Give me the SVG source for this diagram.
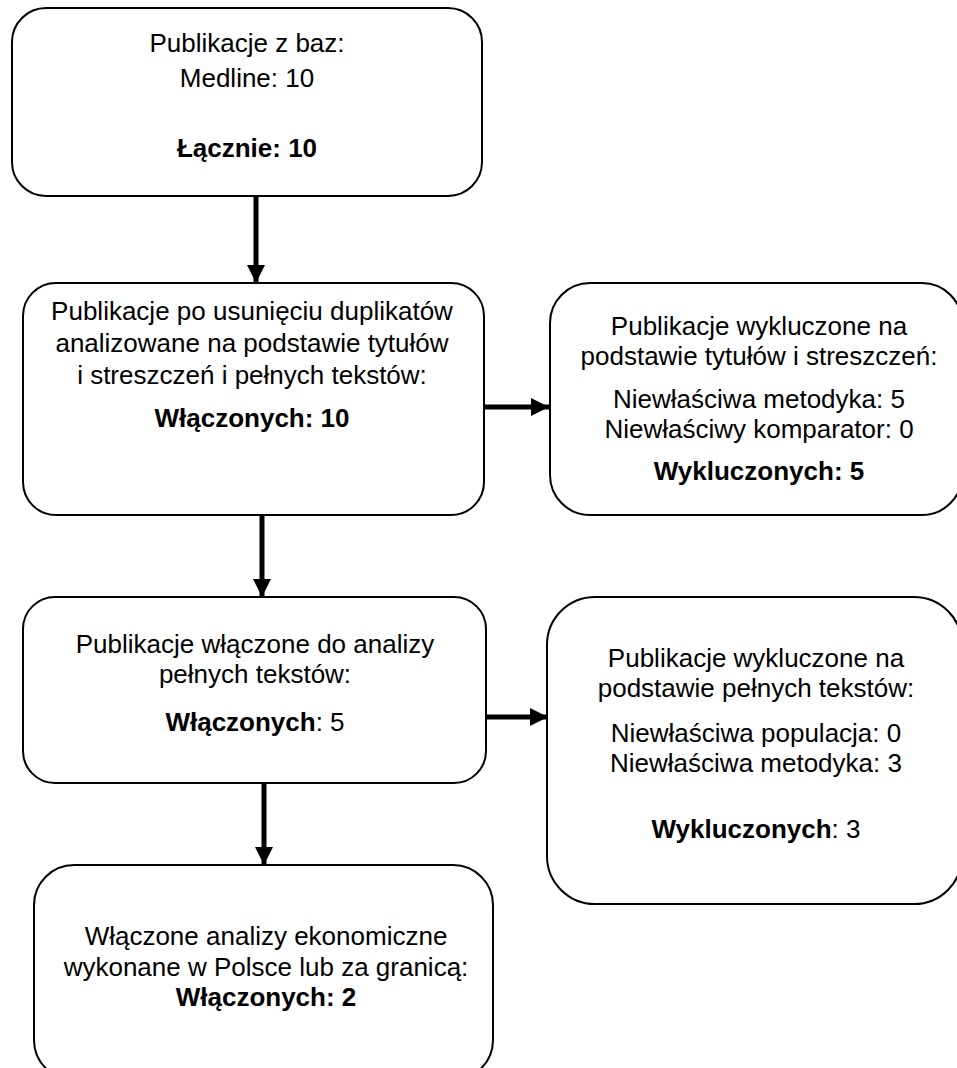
<svg xmlns="http://www.w3.org/2000/svg" width="957" height="1068" viewBox="0 0 957 1068">
<defs>
<style>
.box{fill:#fff;stroke:#000;stroke-width:2}
text{font-family:"Liberation Sans",Arial,sans-serif;font-size:26px;fill:#000;text-anchor:middle}
.b{font-weight:bold}
.conn{stroke:#000;stroke-width:5;fill:none}
</style>
<marker id="ah" viewBox="0 0 10 10" refX="10" refY="5" markerWidth="3.6" markerHeight="3.6" markerUnits="strokeWidth" orient="auto">
<path d="M0,0 L10,5 L0,10 Z" fill="#000"/>
</marker>
</defs>
<rect width="957" height="1068" fill="#fff"/>
<g id="connectors">
<line class="conn" x1="256" y1="196" x2="256" y2="283" marker-end="url(#ah)"/>
<line class="conn" x1="484" y1="407" x2="549" y2="407" marker-end="url(#ah)"/>
<line class="conn" x1="262" y1="515" x2="262" y2="597" marker-end="url(#ah)"/>
<line class="conn" x1="487" y1="717" x2="548" y2="717" marker-end="url(#ah)"/>
<line class="conn" x1="264" y1="783" x2="264" y2="865" marker-end="url(#ah)"/>
</g>
<g id="n1">
<rect class="box" x="12" y="8" width="470" height="188" rx="34" ry="34"/>
<text x="247" y="52">Publikacje z baz:</text>
<text x="247" y="87">Medline: 10</text>
<text x="247" y="157" class="b">Łącznie: 10</text>
</g>
<g id="n2">
<rect class="box" x="23" y="283" width="461" height="232" rx="33" ry="33"/>
<text x="252" y="320">Publikacje po usunięciu duplikatów</text>
<text x="252" y="352">analizowane na podstawie tytułów</text>
<text x="252" y="384">i streszczeń i pełnych tekstów:</text>
<text x="252" y="427" class="b">Włączonych: 10</text>
</g>
<g id="n3">
<rect class="box" x="550" y="283" width="412" height="232" rx="40" ry="40"/>
<text x="759" y="335">Publikacje wykluczone na</text>
<text x="759" y="365">podstawie tytułów i streszczeń:</text>
<text x="759" y="408">Niewłaściwa metodyka: 5</text>
<text x="759" y="438">Niewłaściwy komparator: 0</text>
<text x="759" y="480" class="b">Wykluczonych: 5</text>
</g>
<g id="n4">
<rect class="box" x="23" y="597" width="463" height="186" rx="32" ry="32"/>
<text x="255" y="653">Publikacje włączone do analizy</text>
<text x="255" y="683">pełnych tekstów:</text>
<text x="255" y="731"><tspan class="b">Włączonych</tspan>: 5</text>
</g>
<g id="n5">
<rect class="box" x="547" y="597" width="415" height="307" rx="48" ry="48"/>
<text x="756" y="667">Publikacje wykluczone na</text>
<text x="756" y="697">podstawie pełnych tekstów:</text>
<text x="756" y="742">Niewłaściwa populacja: 0</text>
<text x="756" y="772">Niewłaściwa metodyka: 3</text>
<text x="756" y="838"><tspan class="b">Wykluczonych</tspan>: 3</text>
</g>
<g id="n6">
<rect class="box" x="34" y="865" width="459" height="215" rx="40" ry="40"/>
<text x="266" y="945">Włączone analizy ekonomiczne</text>
<text x="266" y="976">wykonane w Polsce lub za granicą:</text>
<text x="266" y="1006" class="b">Włączonych: 2</text>
</g>
</svg>
